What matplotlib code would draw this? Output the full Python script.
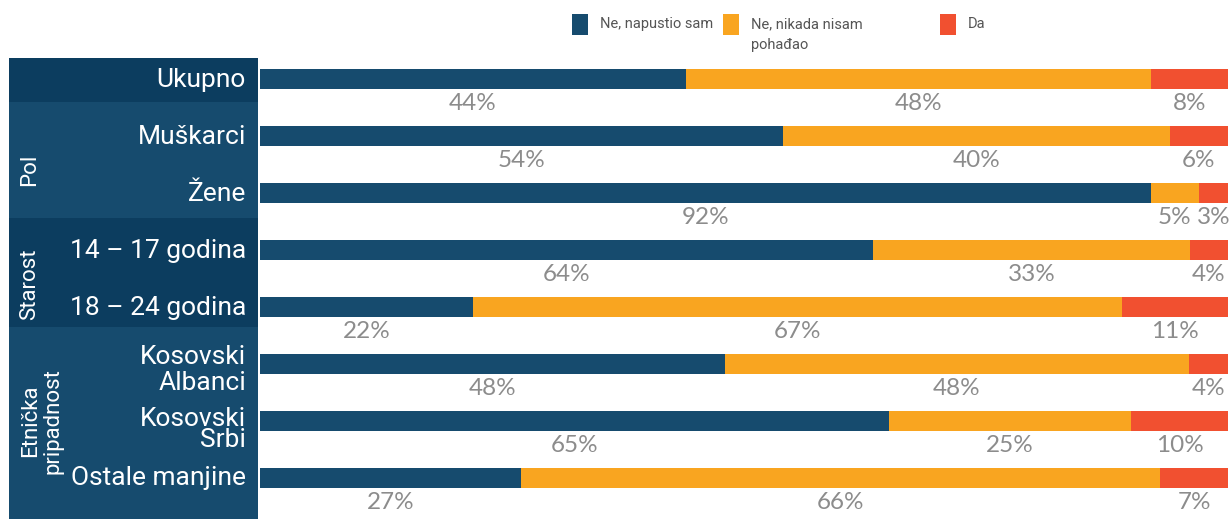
import matplotlib.pyplot as plt
from matplotlib.patches import Rectangle

categories = ['Ukupno', 'Muškarci', 'Žene', '14 – 17 godina', '18 – 24 godina',
              'Kosovski\nAlbanci', 'Kosovski\nSrbi', 'Ostale manjine']
napustio = [44, 54, 92, 64, 22, 48, 65, 27]
nikada = [48, 40, 5, 33, 67, 48, 25, 66]
da = [8, 6, 3, 4, 11, 4, 10, 7]
series_names = ['Ne, napustio sam', 'Ne, nikada nisam\npohađao', 'Da']
groups = ['', 'Pol', 'Starost', 'Etnička\npripadnost']
group_rows = [(0, 0), (1, 2), (3, 4), (5, 7)]


def main():
    colors = ['#164b6e', '#f9a520', '#f15030']
    band_colors = ['#0c3d5f', '#164b6e', '#0c3d5f', '#164b6e']
    band_edges = [-0.37, 0.40, 2.43, 4.35, 7.72]

    fig = plt.figure(figsize=(12.32, 5.2), dpi=100)
    # axes spans pixel x 9..1228, y 58..519
    ax = fig.add_axes([9 / 1232, 1 - 519 / 520, 1219 / 1232, 461 / 520])
    px = 968 / 100.0
    x0 = -(260 - 9) / px
    ax.set_xlim(x0, 100)
    ax.set_ylim(band_edges[-1], band_edges[0])
    ax.axis('off')

    # left panel bands
    for i in range(len(groups)):
        ax.add_patch(Rectangle((x0, band_edges[i]), 249 / px,
                               band_edges[i + 1] - band_edges[i],
                               color=band_colors[i], lw=0))

    rows = list(range(len(categories)))
    series = [napustio, nikada, da]
    label_dy = [0.02, 0.02, 0.02, 0.02, 0.02, 0.11, 0.15, 0.0]
    label_ls = [1.0, 1.0, 1.0, 1.0, 1.0, 1.12, 0.85, 1.0]
    for r in rows:
        total = sum(s[r] for s in series)
        left = 0.0
        for k, s in enumerate(series):
            w = s[r] / total * 100
            ax.barh(r, w, left=left, height=0.35, color=colors[k], lw=0)
            ax.text(left + w / 2, r + 0.43, f'{s[r]}%', ha='center', va='center',
                    fontsize=17.5, color='#8c8c8c', family='Lato')
            left += w
        ax.text(-1.45, r + label_dy[r], categories[r], ha='right', va='center',
                color='white', fontsize=19, family='Roboto', linespacing=label_ls[r])

    for g, (a, b) in zip(groups, group_rows):
        if g:
            gx = 42 if '\n' in g else 30
            gy = (a + b) / 2 + (0.0 if '\n' in g else 0.1)
            ax.text(x0 + (gx - 9) / px, gy, g, rotation=90, ha='center', va='center',
                    color='white', fontsize=16, family='Roboto', linespacing=1.05)

    # legend
    leg_x = [572, 723, 940]
    for k, name in enumerate(series_names):
        fig.patches.append(Rectangle((leg_x[k] / 1232, 1 - 35 / 520), 16 / 1232, 21 / 520,
                                     transform=fig.transFigure, color=colors[k], lw=0))
        fig.text((leg_x[k] + 28) / 1232, 1 - 17 / 520, name, ha='left', va='top',
                 fontsize=10.5, color='#555555', family='Roboto', linespacing=1.6)

    fig.savefig('out.png', dpi=100)


if __name__ == '__main__':
    main()
